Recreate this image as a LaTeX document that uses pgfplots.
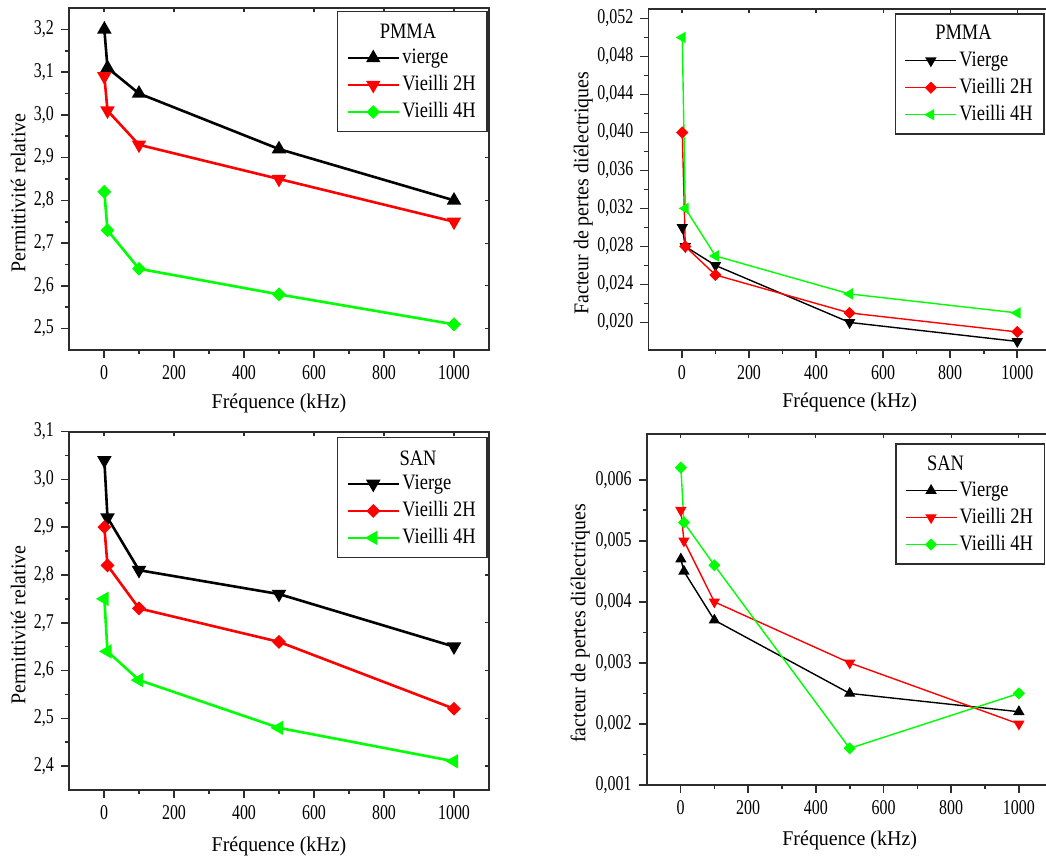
\documentclass[border=0pt]{standalone}
\usepackage{fontspec}
\setmainfont{Liberation Serif}
\newfontfamily\tickfont{Liberation Serif}[FakeStretch=0.76]
\newfontfamily\labfont{Liberation Serif}[FakeStretch=0.95]
\newfontfamily\legfont{Liberation Serif}[FakeStretch=0.84]
\usepackage{pgfplots}
\pgfplotsset{compat=1.18}
\definecolor{vgreen}{RGB}{0,255,0}
\definecolor{axgray}{RGB}{45,45,45}

\pgfplotsset{
  panel/.style={
    scale only axis, anchor=south west,
    xmin=-100, xmax=1100, xtick={0,200,...,1000},
    minor x tick num=1, minor y tick num=1,
    xtick pos=left, ytick pos=left, tick align=outside,
    major tick length=4pt, minor tick length=2pt,
    axis line style={axgray,line width=0.9pt},
    every tick/.append style={axgray,line width=0.8pt},
    /pgf/number format/assume math mode=true,
    scaled ticks=false,
    xticklabel style={/pgf/number format/set thousands separator={}},
    tick label style={font=\tickfont\fontsize{10.5}{12}\selectfont},
    label style={font=\labfont\fontsize{10.5}{12}\selectfont},
    xlabel={Fréquence (kHz)},
    legend cell align=left,
    legend image code/.code={\draw[mark repeat=2,mark phase=2] plot coordinates {(0pt,0pt) (12.75pt,0pt) (25.5pt,0pt)};},
    legend style={anchor=north east, draw=axgray, line width=0.8pt,
      font=\legfont\fontsize{11}{13}\selectfont, inner xsep=4.5pt, inner ysep=3pt, row sep=0pt,
      nodes={inner xsep=1.2pt, inner ysep=1.5pt, text height=8pt, text depth=2.5pt}},
  },
  frame/.style={
    scale only axis, anchor=south west, xmin=-100, xmax=1100,
    axis line style={draw=none}, xtick pos=right, ytick pos=right,
    tick align=inside, xticklabels={}, yticklabels={}, scaled ticks=false,
    major tick length=2pt, minor tick length=0pt,
    every tick/.append style={axgray,line width=0.6pt},
  },
  thickln/.style={line width=1.3pt},
  thinln/.style={line width=0.7pt},
  up/.style={mark=triangle*, mark size=2.9pt},
  down/.style={mark=triangle*, mark size=2.9pt, mark options={rotate=180}},
  left/.style={mark=triangle*, mark size=2.9pt, mark options={rotate=90}},
  dia/.style={mark=square*, mark size=1.8pt, mark options={rotate=45}},
}
\tikzset{legtitle/.style={font=\legfont\fontsize{11}{13}\selectfont, inner sep=0pt, anchor=base}}

\begin{document}
\begin{tikzpicture}
\useasboundingbox (0,0) rectangle (523pt,430pt);

% ---- top left: PMMA permittivity
\begin{axis}[frame, at={(34.5pt,255pt)}, width=210pt, height=171pt, ymin=2.45, ymax=3.25,
  xtick={0,200,...,1000}, ytick={2.5,2.6,2.7,2.8,2.9,3.0,3.1,3.2}]
\end{axis}
\begin{axis}[panel, at={(34.5pt,255pt)}, width=210pt, height=171pt, ymin=2.45, ymax=3.25,
  ytick={2.5,2.6,2.7,2.8,2.9,3.0,3.1,3.2},
  yticklabel style={/pgf/number format/.cd,fixed,fixed zerofill,precision=1,use comma},
  ylabel={Permittivité relative},
  ylabel style={at={(axis description cs:-0.121,0.459)},anchor=center},
  xlabel style={at={(axis description cs:0.5,-0.155)},anchor=center},
  legend style={at={(0.9976,0.992)}}]
\addlegendimage{empty legend}\addlegendentry{}
\addplot[black,thickln,up] coordinates {(1,3.20) (10,3.11) (100,3.05) (500,2.92) (1000,2.80)};
\addlegendentry{vierge}
\addplot[red,thickln,down] coordinates {(1,3.09) (10,3.01) (100,2.93) (500,2.85) (1000,2.75)};
\addlegendentry{Vieilli 2H}
\addplot[vgreen,thickln,dia] coordinates {(1,2.82) (10,2.73) (100,2.64) (500,2.58) (1000,2.51)};
\addlegendentry{Vieilli 4H}
\end{axis}
\node[legtitle] at (204pt,410.5pt) {PMMA};

% ---- top right: PMMA losses
\begin{axis}[frame, at={(324.2pt,255pt)}, width=201.2pt, height=170.5pt, ymin=0.0171, ymax=0.0530,
  xtick={0,200,...,1000}, ytick={0.020,0.024,0.028,0.032,0.036,0.040,0.044,0.048,0.052}]
\end{axis}
\begin{axis}[panel, at={(324.2pt,255pt)}, width=201.2pt, height=170.5pt, ymin=0.0171, ymax=0.0530,
  ytick={0.020,0.024,0.028,0.032,0.036,0.040,0.044,0.048,0.052},
  yticklabel style={/pgf/number format/.cd,fixed,fixed zerofill,precision=3,use comma},
  ylabel={Facteur de pertes diélectriques},
  ylabel style={at={(axis description cs:-0.162,0.46)},anchor=center},
  xlabel style={at={(axis description cs:0.5,-0.155)},anchor=center},
  legend style={at={(0.9856,0.987)}}]
\addlegendimage{empty legend}\addlegendentry{}
\addplot[black,thinln,down,mark size=2.6pt] coordinates {(1,0.030) (10,0.028) (100,0.026) (500,0.020) (1000,0.018)};
\addlegendentry{Vierge}
\addplot[red,thinln,dia] coordinates {(1,0.040) (10,0.028) (100,0.025) (500,0.021) (1000,0.019)};
\addlegendentry{Vieilli 2H}
\addplot[vgreen,thinln,left,mark size=2.6pt] coordinates {(1,0.050) (10,0.032) (100,0.027) (500,0.023) (1000,0.021)};
\addlegendentry{Vieilli 4H}
\end{axis}
\node[legtitle] at (481.75pt,410pt) {PMMA};

% ---- bottom left: SAN permittivity
\begin{axis}[frame, at={(34.5pt,35pt)}, width=210pt, height=179.2pt, ymin=2.35, ymax=3.1,
  xtick={0,200,...,1000}, ytick={2.4,2.5,2.6,2.7,2.8,2.9,3.0,3.1}]
\end{axis}
\begin{axis}[panel, at={(34.5pt,35pt)}, width=210pt, height=179.2pt, ymin=2.35, ymax=3.1,
  ytick={2.4,2.5,2.6,2.7,2.8,2.9,3.0,3.1},
  yticklabel style={/pgf/number format/.cd,fixed,fixed zerofill,precision=1,use comma},
  ylabel={Permittivité relative},
  ylabel style={at={(axis description cs:-0.121,0.46)},anchor=center},
  xlabel style={at={(axis description cs:0.5,-0.158)},anchor=center},
  legend style={at={(0.9976,0.986)}}]
\addlegendimage{empty legend}\addlegendentry{}
\addplot[black,thickln,down] coordinates {(1,3.04) (10,2.92) (100,2.81) (500,2.76) (1000,2.65)};
\addlegendentry{Vierge}
\addplot[red,thickln,dia] coordinates {(1,2.90) (10,2.82) (100,2.73) (500,2.66) (1000,2.52)};
\addlegendentry{Vieilli 2H}
\addplot[vgreen,thickln,left] coordinates {(1,2.75) (10,2.64) (100,2.58) (500,2.48) (1000,2.41)};
\addlegendentry{Vieilli 4H}
\end{axis}
\node[legtitle] at (209pt,197.3pt) {SAN};

% ---- bottom right: SAN losses
\begin{axis}[frame, at={(323.35pt,37.5pt)}, width=203pt, height=175.5pt, ymin=0.001, ymax=0.00675,
  xtick={0,200,...,1000}, ytick={0.001,0.002,0.003,0.004,0.005,0.006}]
\end{axis}
\begin{axis}[panel, at={(323.35pt,37.5pt)}, width=203pt, height=175.5pt, ymin=0.001, ymax=0.00675,
  ytick={0.001,0.002,0.003,0.004,0.005,0.006},
  yticklabel style={/pgf/number format/.cd,fixed,fixed zerofill,precision=3,use comma},
  ylabel={facteur de pertes diélectriques},
  ylabel style={at={(axis description cs:-0.164,0.46)},anchor=center},
  xlabel style={at={(axis description cs:0.5,-0.157)},anchor=center},
  legend style={at={(0.9815,0.9735)}}]
\addlegendimage{empty legend}\addlegendentry{}
\addplot[black,thinln,up,mark size=2.6pt] coordinates {(1,0.0047) (10,0.0045) (100,0.0037) (500,0.0025) (1000,0.0022)};
\addlegendentry{Vierge}
\addplot[red,thinln,down,mark size=2.6pt] coordinates {(1,0.0055) (10,0.0050) (100,0.0040) (500,0.0030) (1000,0.0020)};
\addlegendentry{Vieilli 2H}
\addplot[vgreen,thinln,dia] coordinates {(1,0.0062) (10,0.0053) (100,0.0046) (500,0.0016) (1000,0.0025)};
\addlegendentry{Vieilli 4H}
\end{axis}
\node[legtitle] at (472.75pt,194.8pt) {SAN};
\end{tikzpicture}
\end{document}
